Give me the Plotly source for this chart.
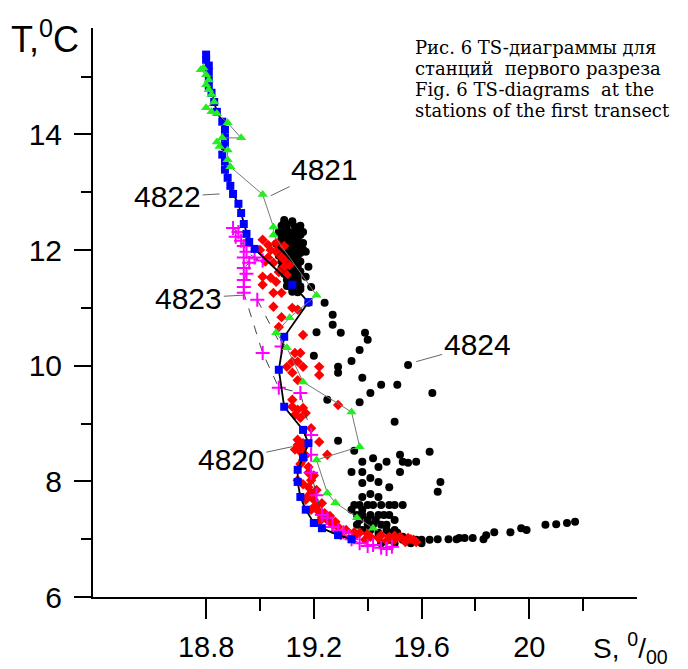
import plotly.graph_objects as go

# salinity S (per mille) and temperature T (deg C)

# station 4822 - blue squares, black line
s_4822 = [18.80, 18.80, 18.81, 18.81, 18.81, 18.81, 18.82, 18.83, 18.84, 18.86, 18.87, 18.87,
          18.87, 18.86, 18.87, 18.87, 18.88, 18.89, 18.90, 18.92, 18.93, 18.94, 18.95, 18.96,
          18.98, 19.12, 19.18, 19.09, 19.07, 19.09, 19.16, 19.18,
          19.16, 19.14, 19.14, 19.15, 19.17, 19.20, 19.23, 19.29, 19.34]
t_4822 = [15.38, 15.29, 15.19, 15.08, 14.94, 14.82, 14.72, 14.56, 14.39, 14.22, 14.08, 13.94,
          13.80, 13.65, 13.53, 13.39, 13.25, 13.11, 12.97, 12.80, 12.64, 12.45, 12.28, 12.14,
          12.02, 11.40, 11.10, 10.50, 9.93, 9.29, 8.89, 8.66,
          8.42, 8.20, 7.99, 7.73, 7.51, 7.28, 7.19, 7.07, 7.00]

# station 4821 - green triangles, grey line
s_4821 = [18.79, 18.78, 18.80, 18.81, 18.80, 18.81, 18.82, 18.83, 18.80, 18.82, 18.84, 18.88,
          18.93, 18.86, 18.84, 18.85, 18.88, 18.88, 18.89, 19.01, 19.05, 19.05, 19.21, 19.11,
          19.06, 19.10, 19.16, 19.34, 19.37, 19.21, 19.25, 19.28, 19.36, 19.42]
t_4821 = [15.15, 15.12, 15.03, 14.94, 14.86, 14.77, 14.69, 14.56, 14.46, 14.39, 14.36, 14.20,
          13.94, 13.94, 13.87, 13.79, 13.73, 13.56, 13.44, 12.96, 12.40, 12.26, 11.22, 10.83,
          10.57, 10.31, 9.72, 9.20, 8.60, 8.37, 7.80, 7.63, 7.37, 7.19]

# station 4823 - magenta crosses, dashed line (None = break in the line)
s_4823 = [18.90, 18.92, 18.91, 18.93, 18.94, 18.95, 18.98, 19.01, 18.94, 18.96, 18.94, 18.95,
          18.94, 18.94, 18.94, 19.01, 19.07, 19.15, 19.19, 19.19, 19.19, 19.21, 19.23, 19.25,
          19.27, 19.29, 19.31, 19.33, 19.34, 19.37, 19.40, 19.42, 19.45, 19.47, 19.49,
          None, 18.99, 19.08]
t_4823 = [12.38, 12.31, 12.23, 12.16, 12.07, 11.97, 11.87, 11.82, 11.87, 11.78, 11.69, 11.59,
          11.48, 11.36, 11.26, 10.22, 9.62, 9.53, 8.80, 8.46, 8.15, 7.76, 7.42, 7.37,
          7.21, 7.15, 7.12, 7.05, 7.00, 6.93, 6.88, 6.90, 6.85, 6.83, 6.87,
          None, 11.14, 10.33]

# station 4820 - red diamonds
s_4820 = [19.01, 19.03, 19.06, 19.09, 19.00, 19.04, 19.06, 19.08, 19.03, 19.02, 19.09, 19.05,
          19.11, 19.09, 19.07, 19.10, 19.01, 19.04, 19.06, 19.01, 19.05, 19.08, 19.05, 19.12,
          19.14, 19.08, 19.07, 19.16, 19.13, 19.15, 19.12, 19.14, 19.16, 19.10, 19.22, 19.12,
          19.22, 19.14, 19.29, 19.12, 19.12, 19.14, 19.16, 19.13, 19.15, 19.17, 19.19, 19.14,
          19.16, 19.22, 19.14, 19.16, 19.15, 19.25, 19.16, 19.18, 19.18, 19.19, 19.14, 19.18,
          19.19, 19.20, 19.17, 19.21, 19.19, 19.22, 19.23, 19.25, 19.22, 19.27, 19.29, 19.32,
          19.35, 19.37, 19.30, 19.35, 19.41, 19.45, 19.39, 19.48, 19.47, 19.52, 19.50, 19.55,
          19.54, 19.57, 19.58, 19.40, 19.44, 19.50, 19.56, 19.13, 19.17, 19.15, 19.20, 19.16,
          19.21, 19.18, 19.23, 19.20, 19.24, 19.26, 19.28]
t_4820 = [12.18, 12.09, 12.12, 12.07, 12.00, 12.00, 11.97, 11.88, 11.87, 11.80, 11.83, 11.78,
          11.74, 11.71, 11.62, 11.57, 11.54, 11.52, 11.45, 11.40, 11.26, 11.26, 11.02, 11.00,
          10.97, 10.84, 10.67, 10.53, 10.22, 10.22, 10.07, 10.07, 9.98, 9.98, 9.98, 9.88,
          9.84, 9.75, 9.32, 9.41, 9.29, 9.24, 9.27, 9.15, 9.10, 9.18, 8.92, 8.72,
          8.66, 8.68, 8.63, 8.58, 8.51, 8.46, 8.37, 8.25, 8.15, 8.02, 8.02, 7.90,
          7.80, 7.68, 7.68, 7.59, 7.51, 7.47, 7.38, 7.33, 7.30, 7.25, 7.21, 7.16,
          7.12, 7.11, 7.07, 7.04, 7.04, 7.07, 6.99, 7.04, 6.97, 7.04, 6.99, 7.02,
          6.95, 6.99, 6.95, 7.09, 7.02, 7.06, 7.00, 8.55, 8.45, 8.30, 8.10, 7.95,
          7.85, 7.75, 7.62, 7.55, 7.45, 7.40, 7.30]

# station 4824 - black dots
s_4824 = [19.09, 19.12, 19.08, 19.10, 19.13, 19.15, 19.07, 19.09, 19.11, 19.13, 19.16, 19.08,
          19.10, 19.12, 19.14, 19.06, 19.09, 19.11, 19.13, 19.15, 19.08, 19.10, 19.12, 19.14,
          19.16, 19.07, 19.09, 19.11, 19.13, 19.08, 19.10, 19.13, 19.15, 19.08, 19.10, 19.12,
          19.14, 19.09, 19.11, 19.13, 19.10, 19.12, 19.14, 19.10, 19.13, 19.15, 19.12, 19.14,
          19.09, 19.12, 19.14, 19.10, 19.12, 19.09, 19.15, 19.08, 19.10, 19.13, 19.15, 19.10,
          19.07, 19.12, 19.08, 19.10, 19.13, 19.15, 19.09, 19.12, 19.14, 19.09, 19.12, 19.14,
          19.10, 19.12, 19.15, 19.11, 19.13, 19.14, 19.11, 19.14, 19.12, 19.15,
          19.16, 19.17, 19.18, 19.17, 19.19, 19.18, 19.24, 19.27, 19.27, 19.30, 19.21, 19.39,
          19.40, 19.37, 19.34, 19.20, 19.29, 19.29, 19.38, 19.45, 19.51, 19.41, 19.37, 19.25,
          19.55, 19.64, 19.50, 19.29, 19.35, 19.63, 19.38, 19.42, 19.47, 19.52, 19.53, 19.55,
          19.58, 19.34, 19.38, 19.44, 19.52, 19.38, 19.44, 19.41, 19.48, 19.67, 19.66, 19.38,
          19.41, 19.44,
          19.35, 19.37, 19.40, 19.42, 19.45, 19.48, 19.50, 19.53, 19.34, 19.38,
          19.36, 19.38, 19.41, 19.44, 19.46, 19.48, 19.37, 19.40, 19.43, 19.50,
          19.36, 19.40, 19.42, 19.45, 19.47, 19.38, 19.41, 19.47, 19.50, 19.44, 19.48, 19.51,
          19.44, 19.53, 19.48, 19.53, 19.56, 19.58, 19.45, 19.50, 19.56, 19.60,
          19.60, 19.63, 19.66, 19.70, 19.73, 19.74, 19.76, 19.79, 19.83, 19.84, 19.87, 19.93,
          19.97, 19.99, 20.06, 20.10, 20.14, 20.17]
t_4824 = [12.52, 12.50, 12.42, 12.44, 12.40, 12.42, 12.31, 12.33, 12.30, 12.32, 12.31, 12.21,
          12.22, 12.20, 12.21, 12.11, 12.12, 12.10, 12.12, 12.10, 12.00, 12.01, 11.99, 12.00,
          12.01, 11.90, 11.91, 11.89, 11.90, 11.80, 11.81, 11.79, 11.80, 11.69, 11.70, 11.68,
          11.69, 11.59, 11.60, 11.58, 11.48, 11.49, 11.47, 11.38, 11.39, 11.37, 11.28, 11.27,
          12.47, 12.47, 12.37, 12.36, 12.26, 12.26, 12.26, 12.16, 12.16, 12.16, 12.05, 12.05,
          12.05, 12.05, 11.95, 11.95, 11.95, 11.95, 11.85, 11.85, 11.85, 11.75, 11.75, 11.74,
          11.64, 11.64, 11.63, 11.53, 11.54, 11.53, 11.43, 11.43, 11.33, 11.32,
          12.12, 11.97, 11.71, 11.54, 11.36, 11.09, 11.09, 10.88, 10.71, 10.57, 10.58, 10.57,
          10.45, 10.27, 10.08, 10.17, 9.98, 9.88, 9.79, 9.67, 9.67, 9.53, 9.37, 9.41,
          10.01, 9.53, 9.03, 8.70, 8.53, 8.51, 8.34, 8.40, 8.34, 8.46, 8.34, 8.32,
          8.34, 8.16, 8.16, 8.25, 8.16, 7.97, 7.99, 8.06, 7.90, 7.99, 7.82, 7.73,
          7.78, 7.73,
          7.59, 7.59, 7.59, 7.59, 7.59, 7.59, 7.59, 7.59, 7.51, 7.51,
          7.42, 7.42, 7.42, 7.42, 7.42, 7.42, 7.33, 7.33, 7.33, 7.33,
          7.25, 7.25, 7.25, 7.25, 7.25, 7.16, 7.16, 7.16, 7.16, 7.11, 7.11, 7.11,
          7.04, 7.04, 6.99, 6.99, 6.99, 6.99, 6.93, 6.93, 6.93, 6.93,
          6.99, 6.99, 7.00, 7.00, 7.00, 7.02, 7.02, 7.02, 7.00, 7.07, 7.12, 7.12,
          7.19, 7.16, 7.25, 7.26, 7.28, 7.30]

station_names = ["4822", "4821", "4823", "4824", "4820"]
# point each label's leader line ends at
leader_s = [18.85, 19.04, 18.94, 19.58, 19.12]
leader_t = [12.97, 12.94, 11.22, 10.07, 8.60]

caption_lines = [
    "Рис. 6 TS-диаграммы для",
    "станций  первого разреза",
    "Fig. 6 TS-diagrams  at the",
    "stations of the first transect",
]

fig = go.Figure()

fig.add_trace(go.Scatter(
    x=s_4824, y=t_4824, mode="markers",
    marker=dict(symbol="circle", size=8, color="black"),
))
fig.add_trace(go.Scatter(
    x=s_4820, y=t_4820, mode="markers",
    marker=dict(symbol="diamond", size=8, color="#ff0000"),
))
fig.add_trace(go.Scatter(
    x=s_4823, y=t_4823, mode="lines+markers", connectgaps=False,
    line=dict(color="#444444", width=1, dash="dash"),
    marker=dict(symbol="cross-thin", size=10, line=dict(color="#ff00ff", width=2)),
))
fig.add_trace(go.Scatter(
    x=s_4822, y=t_4822, mode="lines+markers",
    line=dict(color="black", width=1.8),
    marker=dict(symbol="square", size=8, color="#0000ff"),
))
fig.add_trace(go.Scatter(
    x=s_4821, y=t_4821, mode="lines+markers",
    line=dict(color="#777777", width=1),
    marker=dict(symbol="triangle-up", size=9, color="#22ee22"),
))

# text offsets (px) of each station label from its leader end
offsets = [(-52, 3), (54, -26), (-55, 3), (61, -17), (-61, 13)]
for name, s, t, (dx, dy) in zip(station_names, leader_s, leader_t, offsets):
    fig.add_annotation(
        x=s, y=t, text=name, showarrow=True, ax=dx, ay=dy,
        arrowhead=0, arrowwidth=1, arrowcolor="#666666", standoff=0,
        font=dict(size=30, color="black"),
    )

# axis titles
fig.add_annotation(
    xref="paper", yref="paper", x=-0.155, y=0.985, xanchor="left", yanchor="middle",
    text="T,<sup>0</sup>C", showarrow=False, font=dict(size=36, color="black"),
)
fig.add_annotation(
    xref="paper", yref="paper", x=1.06, y=-0.09, xanchor="right", yanchor="middle",
    text="S, <sup>0</sup>/<sub>00</sub>", showarrow=False, font=dict(size=28, color="black"),
)

# caption, one line each
for i, line in enumerate(caption_lines):
    fig.add_annotation(
        xref="paper", yref="paper", x=0.588, y=0.966 - 0.037 * i,
        xanchor="left", yanchor="middle", showarrow=False, text=line,
        font=dict(family="DejaVu Serif, Liberation Serif, serif", size=18, color="black"),
    )

# the page puts the figure 8 px in from the top-left corner of the window,
# so the figure is 8 px smaller and its margins are reduced to match
fig.update_layout(
    width=680, height=661,
    margin=dict(l=85, r=51, t=20, b=72),
    plot_bgcolor="white", paper_bgcolor="white",
    showlegend=False,
    font=dict(family="Liberation Sans, Arial, sans-serif", color="black"),
)
fig.update_xaxes(
    range=[18.38, 20.40], showgrid=False, zeroline=False, automargin=False,
    showline=True, linecolor="black", linewidth=2,
    ticks="outside", ticklen=20, tickwidth=2, tickcolor="black",
    tickvals=[18.8, 19.2, 19.6, 20.0], ticktext=["18.8", "19.2", "19.6", "20"],
    tickfont=dict(size=29), ticklabelstandoff=3,
    minor=dict(tickvals=[19.0, 19.4, 19.8, 20.2], ticks="outside", ticklen=12,
               tickwidth=2, tickcolor="black", showgrid=False),
)
fig.update_yaxes(
    range=[6, 15.84], showgrid=False, zeroline=False, automargin=False,
    showline=True, linecolor="black", linewidth=2,
    ticks="outside", ticklen=17, tickwidth=2, tickcolor="black",
    tickvals=[6, 8, 10, 12, 14], ticktext=["6", "8", "10", "12", "14"],
    tickfont=dict(size=30), ticklabelstandoff=6,
    minor=dict(tickvals=[7, 9, 11, 13, 15], ticks="outside", ticklen=10,
               tickwidth=2, tickcolor="black", showgrid=False),
)

fig.write_html("out.html")
